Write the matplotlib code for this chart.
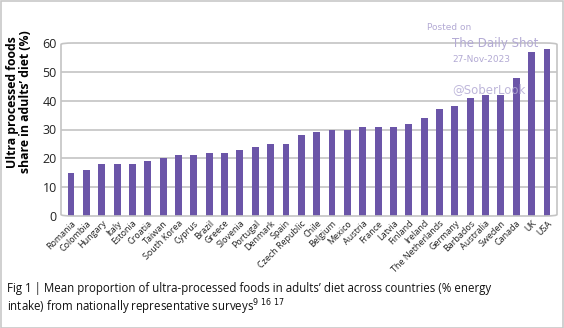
import matplotlib.pyplot as plt
from matplotlib.patches import FancyBboxPatch, Rectangle

plt.rcParams['font.family'] = ['Open Sans', 'DejaVu Sans']

countries = ['Romania', 'Colombia', 'Hungary', 'Italy', 'Estonia', 'Croatia',
             'Taiwan', 'South Korea', 'Cyprus', 'Brazil', 'Greece', 'Slovenia',
             'Portugal', 'Denmark', 'Spain', 'Czech Republic', 'Chile', 'Belgium',
             'Mexico', 'Austria', 'France', 'Latvia', 'Finland', 'Ireland',
             'The Netherlands', 'Germany', 'Barbados', 'Australia', 'Sweden',
             'Canada', 'UK', 'USA']
upf_share = [15, 16, 18, 18, 18, 19, 20, 21, 21, 22, 22, 23, 24, 25, 25, 28,
             29, 30, 30, 31, 31, 31, 32, 34, 37, 38, 41, 42, 42, 48, 57, 58]
y_ticks = [0, 10, 20, 30, 40, 50, 60]

fig = plt.figure(figsize=(5.64, 3.28), dpi=100)
ax = fig.add_axes([61 / 564, 1 - 216 / 328, 496 / 564, 173 / 328])

x = range(len(countries))
ax.bar(x, upf_share, width=0.45, color='#6b55a8', zorder=3)

ax.set_xlim(-0.65, len(countries) - 0.35)
ax.set_ylim(0, 60)
ax.set_yticks(y_ticks)
ax.set_yticklabels([str(t) for t in y_ticks], fontsize=9, color='#222222')
ax.set_xticks(list(x))
ax.set_xticklabels(countries, rotation=45, ha='right', rotation_mode='anchor',
                   fontsize=6.5, color='#222222')
ax.tick_params(axis='both', length=0, pad=3)
ax.tick_params(axis='x', pad=2)

for s in ax.spines.values():
    s.set_visible(False)
for t in y_ticks[1:-1]:
    ax.axhline(t, color='#c4c4c4', lw=1.2, zorder=1)

# rounded frame round the plotting area
frame = FancyBboxPatch((0, 0), 1, 1, boxstyle='round,pad=0,rounding_size=0.025',
                       transform=ax.transAxes, fill=False, edgecolor='#c4c4c4',
                       lw=1.2, clip_on=False, zorder=4, mutation_aspect=173 / 496)
ax.add_patch(frame)

ax.set_ylabel("Ultra processed foods\nshare in adults\u2019 diet (%)", fontsize=8.8,
              fontweight='bold', linespacing=1.0)
ax.yaxis.set_label_coords(-0.058, 0.66)

fig.text(7 / 564, 1 - 282 / 328,
         "Fig 1 | Mean proportion of ultra-processed foods in adults\u2019 diet across countries (% energy\n"
         "intake) from nationally representative surveys$^{9\\ 16\\ 17}$",
         fontsize=8.3, color='#111111', va='top', ha='left', linespacing=1.2)

# watermark
wm = '#b3aad4'
fig.text(427 / 564, 1 - 27 / 328, 'Posted on', fontsize=6.5, color=wm, va='center',
         family='DejaVu Sans')
fig.text(452 / 564, 1 - 43 / 328, 'The Daily Shot', fontsize=8.5, color=wm, va='center',
         family='DejaVu Sans')
fig.text(452 / 564, 1 - 60 / 328, '27-Nov-2023', fontsize=6.5, color=wm, va='center',
         family='DejaVu Sans')
fig.text(452 / 564, 1 - 90 / 328, '@SoberLook', fontsize=8.5, color=wm, va='center',
         family='DejaVu Sans', alpha=0.85, zorder=10)

fig.patches.append(Rectangle((0.5 / 564, 0.5 / 328), 1 - 1.5 / 564, 1 - 1.5 / 328,
                             transform=fig.transFigure, fill=False,
                             edgecolor='#c8c8c8', lw=1.2))

fig.savefig('out.png', dpi=100)
